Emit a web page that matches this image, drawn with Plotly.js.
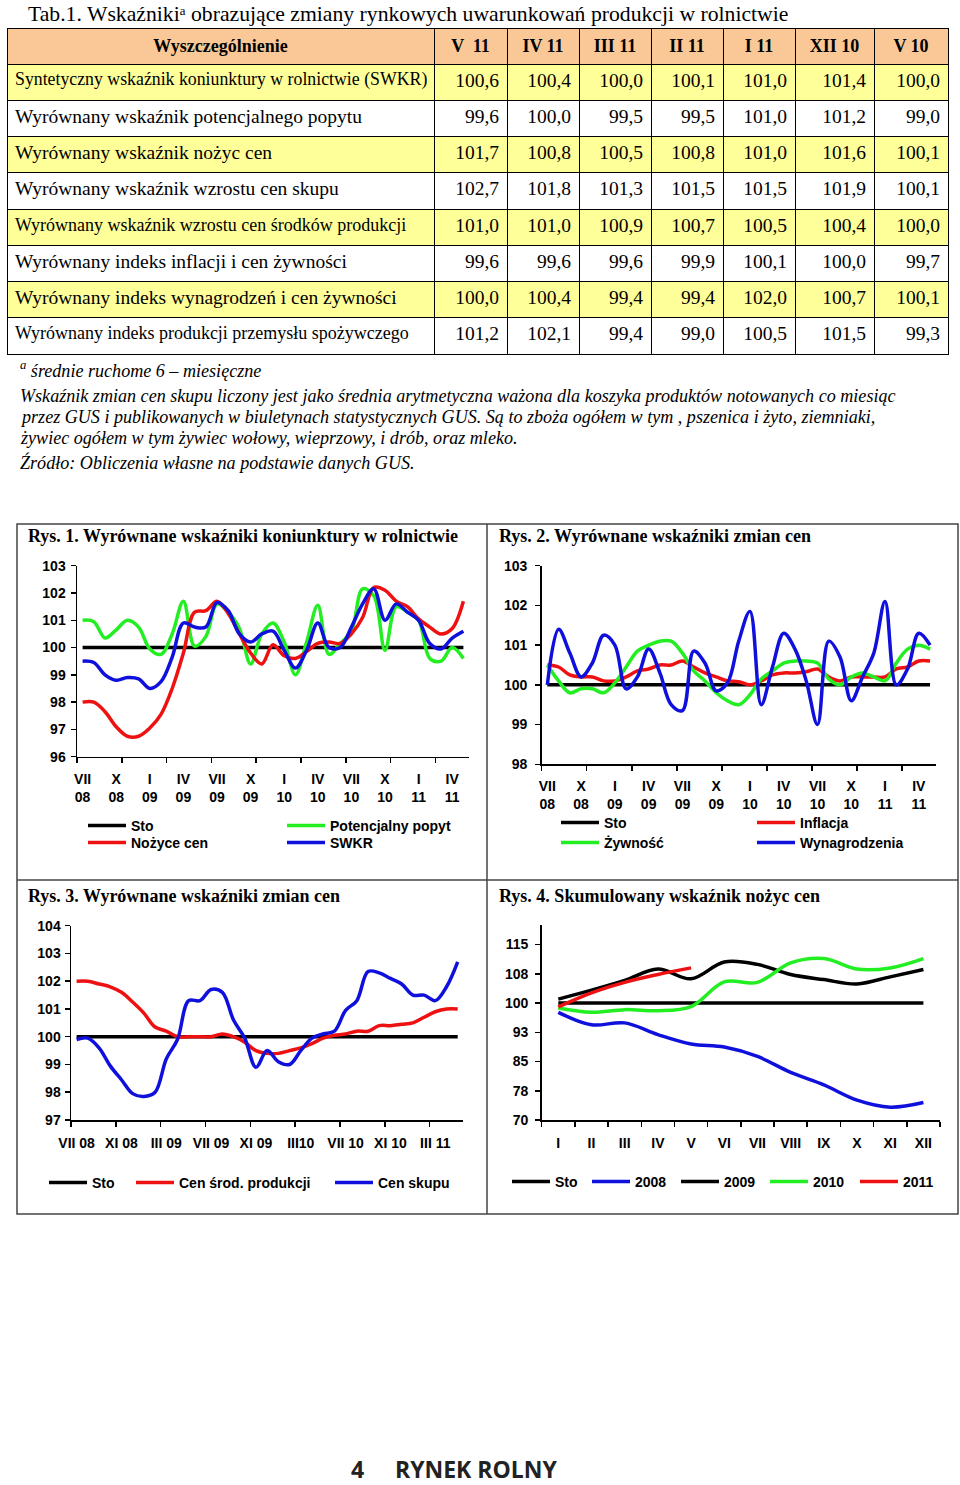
<!DOCTYPE html>
<html><head><meta charset="utf-8">
<script src="https://cdn.plot.ly/plotly-3.0.1.min.js"></script>
<style>html,body{margin:0;padding:0;background:#fff}#page{width:960px;height:1485px}</style>
</head><body><div id="page"></div>
<script>
// ---------------- TABLE DATA ----------------
const tableTitle = 'Tab.1. Wskaźniki\u1d43 obrazujące zmiany rynkowych uwarunkowań produkcji w rolnictwie';
const tableHeader = ['Wyszczególnienie', 'V  11', 'IV 11', 'III 11', 'II 11', 'I 11', 'XII 10', 'V 10'];
const rowLabels = [
  'Syntetyczny wskaźnik koniunktury w rolnictwie (SWKR)',
  'Wyrównany wskaźnik potencjalnego popytu',
  'Wyrównany wskaźnik nożyc cen',
  'Wyrównany wskaźnik wzrostu cen skupu',
  'Wyrównany wskaźnik wzrostu cen środków produkcji',
  'Wyrównany indeks inflacji i cen żywności',
  'Wyrównany indeks wynagrodzeń i cen żywności',
  'Wyrównany indeks produkcji przemysłu spożywczego'
];
const rowSWKR      = [100.6, 100.4, 100.0, 100.1, 101.0, 101.4, 100.0];
const rowPopyt     = [99.6, 100.0, 99.5, 99.5, 101.0, 101.2, 99.0];
const rowNozyce    = [101.7, 100.8, 100.5, 100.8, 101.0, 101.6, 100.1];
const rowSkup      = [102.7, 101.8, 101.3, 101.5, 101.5, 101.9, 100.1];
const rowSrodki    = [101.0, 101.0, 100.9, 100.7, 100.5, 100.4, 100.0];
const rowInflacja  = [99.6, 99.6, 99.6, 99.9, 100.1, 100.0, 99.7];
const rowWynagr    = [100.0, 100.4, 99.4, 99.4, 102.0, 100.7, 100.1];
const rowPrzemysl  = [101.2, 102.1, 99.4, 99.0, 100.5, 101.5, 99.3];

const footLines = [
  '<sup>a</sup> średnie ruchome 6 – miesięczne',
  'Wskaźnik zmian cen skupu liczony jest jako średnia arytmetyczna ważona dla koszyka produktów notowanych co miesiąc',
  'przez GUS i publikowanych w biuletynach statystycznych GUS. Są to zboża ogółem w tym , pszenica i żyto, ziemniaki,',
  'żywiec ogółem w tym żywiec wołowy, wieprzowy, i drób, oraz mleko.',
  'Źródło: Obliczenia własne na podstawie danych GUS.'
];

// ---------------- CHART DATA ----------------
const months = ['VII 08','VIII 08','IX 08','X 08','XI 08','XII 08','I 09','II 09','III 09','IV 09','V 09','VI 09',
  'VII 09','VIII 09','IX 09','X 09','XI 09','XII 09','I 10','II 10','III 10','IV 10','V 10','VI 10',
  'VII 10','VIII 10','IX 10','X 10','XI 10','XII 10','I 11','II 11','III 11','IV 11','V 11'];
const ticks12 = ['VII 08','X 08','I 09','IV 09','VII 09','X 09','I 10','IV 10','VII 10','X 10','I 11','IV 11'];
const ticks3Labels = ['VII 08','XI 08','III 09','VII 09','XI 09','III10','VII 10','XI 10','III 11'];
const ticks3Months = ['VII 08','XI 08','III 09','VII 09','XI 09','III 10','VII 10','XI 10','III 11'];

const sto35 = [100,100,100,100,100,100,100,100,100,100,100,100,100,100,100,100,100,100,100,100,100,100,100,100,100,100,100,100,100,100,100,100,100,100,100];

// Rys. 1
const rys1Popyt  = [101.0,100.95,100.35,100.65,101.0,100.75,99.95,99.75,100.5,101.7,100.05,100.4,101.6,101.3,100.7,99.4,100.5,100.9,100.2,99.0,100.2,101.55,99.75,100.15,100.6,102.15,101.9,99.9,101.5,101.3,101.0,99.6,99.5,100.0,99.6];
const rys1Nozyce = [98.0,98.0,97.65,97.1,96.75,96.75,97.05,97.55,98.5,99.8,101.3,101.35,101.7,101.25,100.5,99.8,99.4,100.1,99.7,99.6,99.85,100.15,100.2,100.15,100.5,101.1,102.2,102.1,101.7,101.5,101.05,100.75,100.5,100.7,101.7];
const rys1SWKR   = [99.5,99.45,99.0,98.8,98.9,98.85,98.5,98.75,99.65,100.9,100.75,100.75,101.65,101.35,100.5,100.2,100.5,100.6,99.9,99.25,99.9,100.9,100.0,100.0,100.75,101.6,102.15,101.0,101.6,101.3,101.0,100.15,99.95,100.35,100.6];

// Rys. 2
const rys2Inflacja = [100.5,100.45,100.25,100.2,100.2,100.1,100.1,100.2,100.35,100.4,100.5,100.5,100.6,100.45,100.3,100.2,100.1,100.08,100.0,100.1,100.25,100.3,100.3,100.33,100.4,100.2,100.1,100.2,100.2,100.2,100.2,100.4,100.45,100.6,100.6];
const rys2Zywnosc  = [100.5,100.1,99.8,99.9,99.9,99.8,100.05,100.45,100.85,101.0,101.1,101.1,100.8,100.35,100.1,99.8,99.6,99.5,99.75,100.15,100.35,100.55,100.6,100.6,100.55,100.15,100.0,100.2,100.3,100.2,100.1,100.55,100.9,101.0,100.9];
const rys2Wynagr   = [100.0,101.4,100.8,100.2,100.55,101.25,101.0,99.9,100.2,100.9,100.3,99.5,99.35,100.85,100.55,99.85,100.05,101.1,101.85,99.5,100.45,101.3,100.9,100.1,99.0,101.1,100.7,99.6,100.2,100.8,102.1,100.0,100.4,101.3,101.0];

// Rys. 3
const rys3Srodki = [102.0,102.0,101.9,101.8,101.6,101.25,100.85,100.35,100.2,100.0,100.0,100.0,100.0,100.1,100.0,99.8,99.5,99.4,99.4,99.5,99.6,99.75,99.95,100.05,100.1,100.2,100.2,100.4,100.4,100.45,100.5,100.7,100.9,101.0,101.0];
const rys3Skup   = [99.9,99.95,99.6,98.95,98.45,97.95,97.85,98.0,99.2,99.9,101.3,101.3,101.7,101.6,100.6,99.95,98.9,99.5,99.1,99.0,99.5,99.95,100.1,100.2,100.95,101.3,102.35,102.3,102.1,101.9,101.5,101.5,101.3,101.8,102.7];

// Rys. 4
const months12 = ['I','II','III','IV','V','VI','VII','VIII','IX','X','XI','XII'];
const rys4Sto  = [100,100,100,100,100,100,100,100,100,100,100,100];
const rys4Y2008 = [97.6,94.4,94.9,91.9,89.5,88.7,86.3,82.2,79.0,75.1,73.3,74.5];
const rys4Y2009 = [101.0,103.3,105.8,108.7,106.2,110.5,109.9,107.3,106.0,104.9,106.7,108.6];
const rys4Y2010 = [98.7,97.6,98.3,98.0,99.1,105.4,105.3,110.3,111.4,108.7,109.0,111.4];
const rys4Y2011 = [99.0,102.6,105.3,107.3,109.0];
const rys4TickVals = [70,77.5,85,92.5,100,107.5,115];
const rys4TickText = ['70','78','85','93','100','108','115'];

// ---------------- BUILD ----------------
const W = 960, H = 1485;
const X = p => p / W;
const Y = p => 1 - p / H;
const fmt = v => v.toFixed(1).replace('.', ',');

const BLACK = '#000000', GREEN = '#22EE22', RED = '#EE1111', BLUE = '#1010DD';
const SERIF = 'Liberation Serif, Times New Roman, serif';
const SANS = 'Liberation Sans, Arial, sans-serif';

const dataRows = [rowSWKR, rowPopyt, rowNozyce, rowSkup, rowSrodki, rowInflacja, rowWynagr, rowPrzemysl];
const labelCol = rowLabels.map(s => s.replace(/ /g, '\u00a0'));
const cols = [labelCol];
for (let c = 0; c < 7; c++) cols.push(dataRows.map(r => fmt(r[c])));
const rowFill = rowLabels.map((_, i) => i % 2 === 0 ? '#FFFF99' : '#FFFFFF');
const labelSizes = [17.8, 19.5, 19.5, 19.5, 18, 19.5, 19.5, 18];

const traces = [];
traces.push({
  type: 'table',
  domain: {x: [X(7), X(948)], y: [Y(358), Y(28)]},
  columnwidth: [427, 73, 72, 72, 72, 72, 79, 74],
  header: {
    values: tableHeader.map(h => '<b>' + h + '</b>'),
    align: 'center', height: 35,
    fill: {color: '#FAC896'},
    line: {color: '#000', width: 1},
    font: {family: SERIF, size: 18, color: '#000'}
  },
  cells: {
    values: cols,
    align: ['left', 'right', 'right', 'right', 'right', 'right', 'right', 'right'],
    height: 36.25,
    fill: {color: cols.map(() => rowFill)},
    line: {color: '#000', width: 1},
    font: {family: SERIF, color: '#000', size: cols.map((c, i) => i === 0 ? labelSizes : 19.5)}
  }
});

const idx = months.map((m, i) => i);
let legN = 0;
const legends = {};
function addLine(xa, ya, x, y, name, color, lx, ly) {
  legN++;
  const key = legN === 1 ? 'legend' : 'legend' + legN;
  traces.push({
    type: 'scatter', mode: 'lines', x: x, y: y, name: name,
    xaxis: xa, yaxis: ya, legend: key,
    line: {color: color, width: 3.5, shape: 'spline', smoothing: 1},
    hoverinfo: 'skip'
  });
  legends[key] = {
    x: X(lx - 6), y: Y(ly), xanchor: 'left', yanchor: 'middle',
    bgcolor: 'rgba(0,0,0,0)', borderwidth: 0, itemwidth: 38,
    font: {family: SANS, size: 14, color: '#000', weight: 700}
  };
}

// Rys 1
addLine('x', 'y', idx, sto35, 'Sto', BLACK, 89, 826);
addLine('x', 'y', idx, rys1Popyt, 'Potencjalny popyt', GREEN, 288, 826);
addLine('x', 'y', idx, rys1Nozyce, 'Nożyce cen', RED, 89, 843);
addLine('x', 'y', idx, rys1SWKR, 'SWKR', BLUE, 288, 843);
// Rys 2
addLine('x2', 'y2', idx, sto35, 'Sto', BLACK, 562, 823);
addLine('x2', 'y2', idx, rys2Inflacja, 'Inflacja', RED, 758, 823);
addLine('x2', 'y2', idx, rys2Zywnosc, 'Żywność', GREEN, 562, 843);
addLine('x2', 'y2', idx, rys2Wynagr, 'Wynagrodzenia', BLUE, 758, 843);
// Rys 3
addLine('x3', 'y3', idx, sto35, 'Sto', BLACK, 50, 1183);
addLine('x3', 'y3', idx, rys3Srodki, 'Cen środ. produkcji', RED, 137, 1183);
addLine('x3', 'y3', idx, rys3Skup, 'Cen skupu', BLUE, 336, 1183);
// Rys 4
const idx12 = months12.map((m, i) => i);
addLine('x4', 'y4', idx12, rys4Sto, 'Sto', BLACK, 513, 1182);
addLine('x4', 'y4', idx12, rys4Y2008, '2008', BLUE, 593, 1182);
addLine('x4', 'y4', idx12, rys4Y2009, '2009', BLACK, 682, 1182);
addLine('x4', 'y4', idx12, rys4Y2010, '2010', GREEN, 771, 1182);
addLine('x4', 'y4', idx12, rys4Y2011, '2011', RED, 861, 1182);

const tickFont = {family: SANS, size: 14, color: '#000', weight: 700};
function baseAxis(extra) {
  return Object.assign({
    showline: true, linecolor: '#000', linewidth: 1.5, showgrid: false, zeroline: false,
    ticks: 'outside', ticklen: 5, tickwidth: 1.5, tickcolor: '#000', tickfont: tickFont,
    fixedrange: true
  }, extra);
}
const tv12 = ticks12.map(m => months.indexOf(m));
const tv3 = ticks3Months.map(m => months.indexOf(m));

const layout = Object.assign({
  width: W, height: H, margin: {l: 0, r: 0, t: 0, b: 0},
  paper_bgcolor: '#fff', plot_bgcolor: 'rgba(0,0,0,0)', showlegend: true,
  xaxis: baseAxis({domain: [X(77), X(469)], anchor: 'y', range: [-0.5, 34.5],
    tickmode: 'array', tickvals: tv12, ticktext: ticks12.map(t => t.replace(' ', '<br>')), ticks: '',
    ticklabelstandoff: 9,
    minor: {tick0: -0.5, dtick: 4, ticks: 'outside', ticklen: 5, tickwidth: 1.5, tickcolor: '#000'}}),
  yaxis: baseAxis({domain: [Y(756.7), Y(565.7)], anchor: 'x', range: [96, 103], dtick: 1, tick0: 96, ticklabelstandoff: 2}),
  xaxis2: baseAxis({domain: [X(541.7), X(935.7)], anchor: 'y2', range: [-0.5, 34.5],
    tickmode: 'array', tickvals: tv12, ticktext: ticks12.map(t => t.replace(' ', '<br>')), ticks: '',
    ticklabelstandoff: 8,
    minor: {tick0: -0.5, dtick: 4, ticks: 'outside', ticklen: 5, tickwidth: 1.5, tickcolor: '#000'}}),
  yaxis2: baseAxis({domain: [Y(764.3), Y(565.7)], anchor: 'x2', range: [98, 103], dtick: 1, tick0: 98, ticklabelstandoff: 5}),
  xaxis3: baseAxis({domain: [X(71), X(463.3)], anchor: 'y3', range: [-0.5, 34.5],
    tickmode: 'array', tickvals: tv3, ticktext: ticks3Labels, ticks: '',
    ticklabelstandoff: 10,
    minor: {tick0: -0.5, dtick: 4, ticks: 'outside', ticklen: 5, tickwidth: 1.5, tickcolor: '#000'}}),
  yaxis3: baseAxis({domain: [Y(1120), Y(925.7)], anchor: 'x3', range: [97, 104], dtick: 1, tick0: 97, ticklabelstandoff: 1}),
  xaxis4: baseAxis({domain: [X(541.7), X(940)], anchor: 'y4', range: [-0.5, 11.5],
    tickmode: 'array', tickvals: idx12, ticktext: months12, ticks: '',
    ticklabelstandoff: 10,
    minor: {tick0: -0.5, dtick: 1, ticks: 'outside', ticklen: 5, tickwidth: 1.5, tickcolor: '#000'}}),
  yaxis4: baseAxis({domain: [Y(1120), Y(925)], anchor: 'x4', range: [70, 120],
    tickmode: 'array', tickvals: rys4TickVals, ticktext: rys4TickText, ticklabelstandoff: 4}),
  annotations: [],
  shapes: []
}, legends);

function ann(text, x, y, font, xanchor, yanchor) {
  layout.annotations.push({text: text, xref: 'paper', yref: 'paper', x: X(x), y: Y(y),
    xanchor: xanchor || 'left', yanchor: yanchor || 'middle', showarrow: false, font: font, align: 'left'});
}
ann(tableTitle, 26, 14, {family: SERIF, size: 21.7, color: '#000'});
const footFont = {family: SERIF, size: 18.1, color: '#000', style: 'italic'};
const footY = [369, 396, 417, 438, 463];
footLines.forEach((t, i) => ann('<i>' + t + '</i>', 18, footY[i], footFont));

const titleFont = {family: SERIF, size: 18, color: '#000', weight: 700};
ann('<b>Rys. 1. Wyrównane wskaźniki koniunktury w rolnictwie</b>', 26, 536, titleFont);
ann('<b>Rys. 2. Wyrównane wskaźniki zmian cen</b>', 497, 536, titleFont);
ann('<b>Rys. 3. Wyrównane wskaźniki zmian cen</b>', 26, 896, titleFont);
ann('<b>Rys. 4. Skumulowany wskaźnik nożyc cen</b>', 497, 896, titleFont);

const footerFont = {family: 'Open Sans, Noto Sans, sans-serif', size: 23, color: '#222', weight: 700};
ann('4', 357, 1469, footerFont, 'center');
ann('RYNEK ROLNY', 393, 1469, footerFont);

const boxLine = {color: '#444', width: 1.5};
layout.shapes.push({type: 'rect', xref: 'paper', yref: 'paper', x0: X(17), x1: X(958), y0: Y(1214), y1: Y(524), line: boxLine});
layout.shapes.push({type: 'line', xref: 'paper', yref: 'paper', x0: X(487), x1: X(487), y0: Y(1214), y1: Y(524), line: boxLine});
layout.shapes.push({type: 'line', xref: 'paper', yref: 'paper', x0: X(17), x1: X(958), y0: Y(880), y1: Y(880), line: boxLine});

Plotly.newPlot('page', traces, layout, {displayModeBar: false, staticPlot: true});
</script>
</body></html>
